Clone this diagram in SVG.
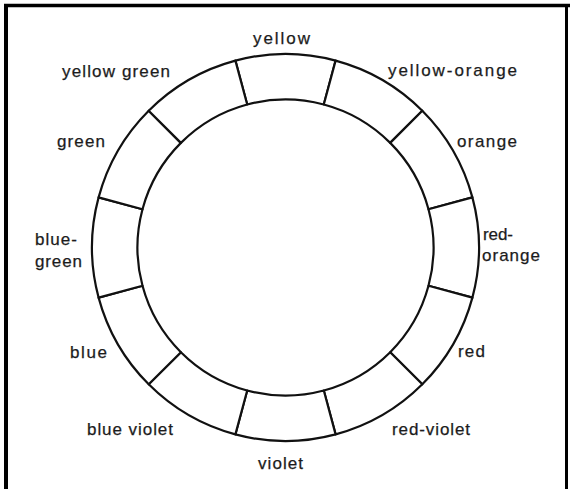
<svg xmlns="http://www.w3.org/2000/svg" width="570" height="489" viewBox="0 0 570 489">
<style>
.seg{fill:#fff;stroke:#111;stroke-width:2.2;stroke-linejoin:round}
.lbl{font-family:"Liberation Sans",Arial,sans-serif;font-size:17px;fill:#1c1c1c;stroke:#1c1c1c;stroke-width:0.25}
.frame{stroke:#000;fill:none}
</style>
<rect width="570" height="489" fill="#fff"/>
<g id="frame">
<line class="frame" x1="4" y1="5.5" x2="570" y2="5.5" stroke-width="3.5"/>
<line class="frame" x1="6" y1="4" x2="6" y2="489" stroke-width="4"/>
<line class="frame" x1="566.5" y1="4" x2="566.5" y2="489" stroke-width="3"/>
</g>
<g id="connectors"></g>
<g id="yellow"><path class="seg" d="M235.4 60.6 A193.5 193.5 0 0 1 335.6 60.6 L323.8 104.5 A148 148 0 0 0 247.2 104.5 Z"/><text class="lbl" x="253" y="44" textLength="57" lengthAdjust="spacing">yellow</text></g>
<g id="yellow-orange"><path class="seg" d="M335.6 60.6 A193.5 193.5 0 0 1 422.3 110.7 L390.2 142.9 A148 148 0 0 0 323.8 104.5 Z"/><text class="lbl" x="388" y="76" textLength="129" lengthAdjust="spacing">yellow-orange</text></g>
<g id="orange"><path class="seg" d="M422.3 110.7 A193.5 193.5 0 0 1 472.4 197.4 L428.5 209.2 A148 148 0 0 0 390.2 142.9 Z"/><text class="lbl" x="457" y="147" textLength="60" lengthAdjust="spacing">orange</text></g>
<g id="red-orange"><path class="seg" d="M472.4 197.4 A193.5 193.5 0 0 1 472.4 297.6 L428.5 285.8 A148 148 0 0 0 428.5 209.2 Z"/><text class="lbl" x="483" y="240" textLength="30" lengthAdjust="spacing">red-</text><text class="lbl" x="482" y="261" textLength="58" lengthAdjust="spacing">orange</text></g>
<g id="red"><path class="seg" d="M472.4 297.6 A193.5 193.5 0 0 1 422.3 384.3 L390.2 352.2 A148 148 0 0 0 428.5 285.8 Z"/><text class="lbl" x="458" y="357" textLength="27" lengthAdjust="spacing">red</text></g>
<g id="red-violet"><path class="seg" d="M422.3 384.3 A193.5 193.5 0 0 1 335.6 434.4 L323.8 390.5 A148 148 0 0 0 390.2 352.2 Z"/><text class="lbl" x="392" y="435" textLength="78" lengthAdjust="spacing">red-violet</text></g>
<g id="violet"><path class="seg" d="M335.6 434.4 A193.5 193.5 0 0 1 235.4 434.4 L247.2 390.5 A148 148 0 0 0 323.8 390.5 Z"/><text class="lbl" x="258" y="469" textLength="45" lengthAdjust="spacing">violet</text></g>
<g id="blue-violet"><path class="seg" d="M235.4 434.4 A193.5 193.5 0 0 1 148.7 384.3 L180.9 352.2 A148 148 0 0 0 247.2 390.5 Z"/><text class="lbl" x="87" y="435" textLength="86" lengthAdjust="spacing">blue violet</text></g>
<g id="blue"><path class="seg" d="M148.7 384.3 A193.5 193.5 0 0 1 98.6 297.6 L142.5 285.8 A148 148 0 0 0 180.9 352.2 Z"/><text class="lbl" x="70" y="358" textLength="37" lengthAdjust="spacing">blue</text></g>
<g id="blue-green"><path class="seg" d="M98.6 297.6 A193.5 193.5 0 0 1 98.6 197.4 L142.5 209.2 A148 148 0 0 0 142.5 285.8 Z"/><text class="lbl" x="35" y="245" textLength="42" lengthAdjust="spacing">blue-</text><text class="lbl" x="35" y="267" textLength="47" lengthAdjust="spacing">green</text></g>
<g id="green"><path class="seg" d="M98.6 197.4 A193.5 193.5 0 0 1 148.7 110.7 L180.9 142.9 A148 148 0 0 0 142.5 209.2 Z"/><text class="lbl" x="57" y="147" textLength="48" lengthAdjust="spacing">green</text></g>
<g id="yellow-green"><path class="seg" d="M148.7 110.7 A193.5 193.5 0 0 1 235.4 60.6 L247.2 104.5 A148 148 0 0 0 180.9 142.9 Z"/><text class="lbl" x="62" y="77" textLength="108" lengthAdjust="spacing">yellow green</text></g>
</svg>
